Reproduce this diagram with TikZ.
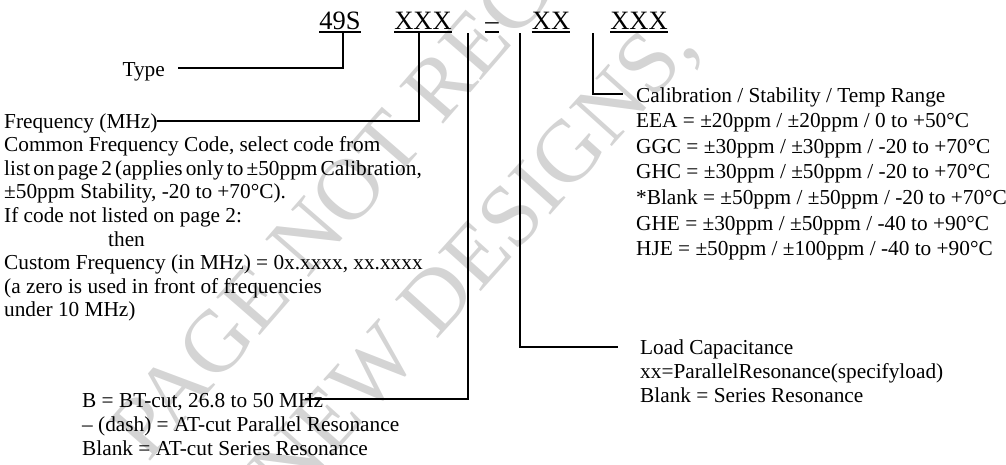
\documentclass[tikz,border=0pt]{standalone}
\usepackage{fontspec}
\setmainfont{Liberation Serif}
\begin{document}
\begin{tikzpicture}[x=1pt,y=-1pt,
  lbl/.style={inner sep=0pt, anchor=base west, font=\fontsize{21.3}{24}\selectfont},
  code/.style={inner sep=0pt, anchor=base, font=\fontsize{26.5}{30}\selectfont},
  conn/.style={line width=2.2pt},
  uline/.style={line width=1.3pt},
  wm/.style={inner sep=0pt, anchor=base west, text=black!17, font=\fontsize{88}{90}\selectfont}]
\useasboundingbox (0,0) rectangle (1006,464);
% watermark
\node[wm, rotate=49] (wm1) at (148,464) {PAGE NOT RECOMMENDED};
\node[wm, rotate=48] (wm2) at (288,506) {NEW DESIGNS,};
% top codes
\node[code] (c49) at (340,29) {49S};
\node[code] (cF) at (423,29) {XXX};
\node[code] (cD) at (492,29) {–};
\node[code] (cL) at (551,29) {XX};
\node[code] (cC) at (639,29) {XXX};
\foreach \n in {c49,cF,cD,cL,cC}{
  \draw[uline] ([yshift=-3pt]\n.base west) -- ([yshift=-3pt]\n.base east);
}
% labels
\node[lbl, anchor=base east] (type) at (165,76) {Type};
\node[lbl] (f1) at (4,128) {Frequency (MHz)};
\node[lbl] (f2) at (4,151.6) {Common Frequency Code, select code from};
\node[lbl] (f3) at (4,175.2) {{\spaceskip=0.15em\relax list on page 2 (applies only to ±50ppm Calibration,}};
\node[lbl] (f4) at (4,198.8) {±50ppm Stability, -20 to +70°C).};
\node[lbl] (f5) at (4,222.4) {If code not listed on page 2:};
\node[lbl] (f6) at (108,246) {then};
\node[lbl] (f7) at (4,269.6) {Custom Frequency (in MHz) = 0x.xxxx, xx.xxxx};
\node[lbl] (f8) at (4,293.2) {(a zero is used in front of frequencies};
\node[lbl] (f9) at (4,316.8) {under 10 MHz)};
\node[lbl] (b1) at (82,407) {B = BT-cut, 26.8 to 50 MHz};
\node[lbl] (b2) at (82,431) {– (dash) = AT-cut Parallel Resonance};
\node[lbl] (b3) at (82,455) {Blank = AT-cut Series Resonance};
\node[lbl] (l1) at (640,354) {Load Capacitance};
\node[lbl] (l2) at (640,378) {xx=ParallelResonance(specifyload)};
\node[lbl] (l3) at (640,402) {Blank = Series Resonance};
\node[lbl] (k1) at (636,102) {Calibration / Stability / Temp Range};
\node[lbl] (k2) at (636,127.6) {EEA = ±20ppm / ±20ppm / 0 to +50°C};
\node[lbl] (k3) at (636,153.2) {GGC = ±30ppm / ±30ppm / -20 to +70°C};
\node[lbl] (k4) at (636,178.8) {GHC = ±30ppm / ±50ppm / -20 to +70°C};
\node[lbl] (k5) at (636,204.4) {*Blank = ±50ppm / ±50ppm / -20 to +70°C};
\node[lbl] (k6) at (636,230) {GHE = ±30ppm / ±50ppm / -40 to +90°C};
\node[lbl] (k7) at (636,255.6) {HJE = ±50ppm / ±100ppm / -40 to +90°C};
% connectors
\coordinate (p49) at (343,33);  \coordinate (e49) at (178,68);
\coordinate (pF) at (419,33);   \coordinate (eF) at (157,121);
\coordinate (pD) at (468,33);   \coordinate (eD) at (305,399);
\coordinate (pL) at (520,33);   \coordinate (eL) at (618,347);
\coordinate (pC) at (593,33);   \coordinate (eC) at (623,94);
\draw[conn] (p49) |- (e49);
\draw[conn] (pF) |- (eF);
\draw[conn] (pD) |- (eD);
\draw[conn] (pL) |- (eL);
\draw[conn] (pC) |- (eC);
\end{tikzpicture}
\end{document}
